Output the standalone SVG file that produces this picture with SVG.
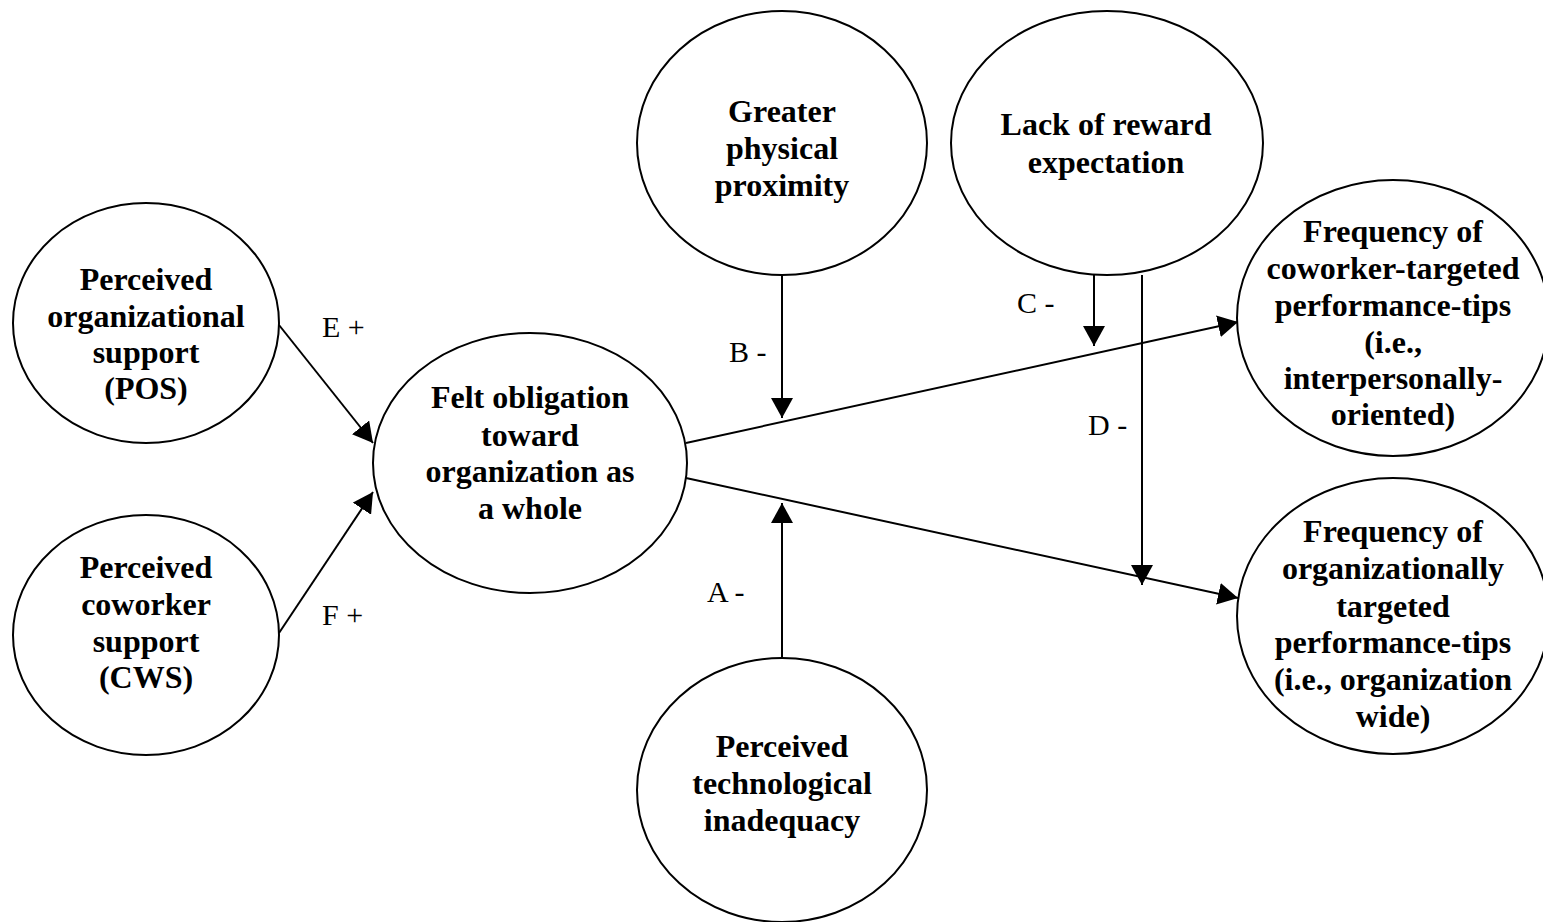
<svg xmlns="http://www.w3.org/2000/svg" width="1543" height="922" viewBox="0 0 1543 922">
<style>
.node ellipse{fill:#fff;stroke:#000;stroke-width:2}
.node text{font-family:"Liberation Serif","Times New Roman",serif;font-weight:bold;font-size:32px;fill:#000;text-anchor:middle}
.conn line{stroke:#000;stroke-width:2;marker-end:url(#ah)}
.lbl{font-family:"Liberation Serif","Times New Roman",serif;font-size:30px;fill:#000}
</style>
<defs>
<marker id="ah" viewBox="0 0 20 22" markerWidth="20" markerHeight="22" refX="20" refY="11" orient="auto" markerUnits="userSpaceOnUse">
<path d="M0,0 L20,11 L0,22 z" fill="#000"/>
</marker>
</defs>
<rect width="1543" height="922" fill="#fff"/>
<g id="connectors" class="conn">
<line x1="279" y1="325" x2="373" y2="443"/>
<line x1="279" y1="633" x2="373" y2="492"/>
<line x1="686" y1="443" x2="1238" y2="322"/>
<line x1="686" y1="478" x2="1238" y2="598"/>
<line x1="782" y1="275" x2="782" y2="418"/>
<line x1="782" y1="658" x2="782" y2="503"/>
<line x1="1094" y1="275" x2="1094" y2="346"/>
<line x1="1142" y1="275" x2="1142" y2="585"/>
</g>
<g id="labels">
<text class="lbl" x="322" y="337">E +</text>
<text class="lbl" x="322" y="625">F +</text>
<text class="lbl" x="729" y="362">B -</text>
<text class="lbl" x="707" y="602">A -</text>
<text class="lbl" x="1017" y="313">C -</text>
<text class="lbl" x="1088" y="435">D -</text>
</g>
<g id="pos" class="node">
<ellipse cx="146" cy="323" rx="133" ry="120"/>
<text x="146" y="290">Perceived</text>
<text x="146" y="327">organizational</text>
<text x="146" y="363">support</text>
<text x="146" y="399">(POS)</text>
</g>
<g id="cws" class="node">
<ellipse cx="146" cy="635" rx="133" ry="120"/>
<text x="146" y="578">Perceived</text>
<text x="146" y="615">coworker</text>
<text x="146" y="652">support</text>
<text x="146" y="688">(CWS)</text>
</g>
<g id="felt" class="node">
<ellipse cx="530" cy="463" rx="157" ry="130"/>
<text x="530" y="408">Felt obligation</text>
<text x="530" y="446">toward</text>
<text x="530" y="482">organization as</text>
<text x="530" y="519">a whole</text>
</g>
<g id="proximity" class="node">
<ellipse cx="782" cy="143" rx="145" ry="132"/>
<text x="782" y="122">Greater</text>
<text x="782" y="159">physical</text>
<text x="782" y="196">proximity</text>
</g>
<g id="reward" class="node">
<ellipse cx="1107" cy="143" rx="156" ry="132"/>
<text x="1106" y="135">Lack of reward</text>
<text x="1106" y="173">expectation</text>
</g>
<g id="tech" class="node">
<ellipse cx="782" cy="790" rx="145" ry="132"/>
<text x="782" y="757">Perceived</text>
<text x="782" y="794">technological</text>
<text x="782" y="831">inadequacy</text>
</g>
<g id="coworker-tips" class="node">
<ellipse cx="1393" cy="318" rx="156" ry="138"/>
<text x="1393" y="242">Frequency of</text>
<text x="1393" y="279">coworker-targeted</text>
<text x="1393" y="316">performance-tips</text>
<text x="1393" y="353">(i.e.,</text>
<text x="1393" y="389">interpersonally-</text>
<text x="1393" y="425">oriented)</text>
</g>
<g id="org-tips" class="node">
<ellipse cx="1393" cy="616" rx="156" ry="138"/>
<text x="1393" y="542">Frequency of</text>
<text x="1393" y="579">organizationally</text>
<text x="1393" y="617">targeted</text>
<text x="1393" y="653">performance-tips</text>
<text x="1393" y="690">(i.e., organization</text>
<text x="1393" y="727">wide)</text>
</g>
</svg>
